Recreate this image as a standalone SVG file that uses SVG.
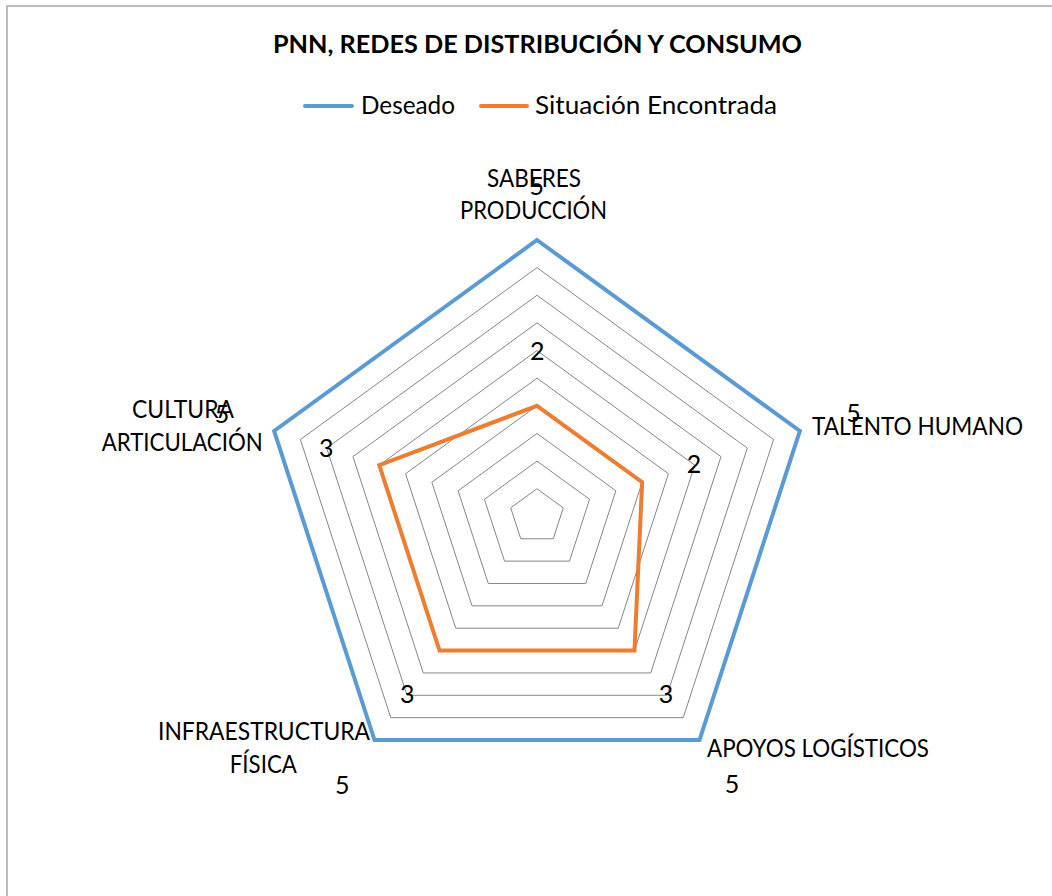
<svg xmlns="http://www.w3.org/2000/svg" width="1052" height="896" viewBox="0 0 1052 896">
  <style>
    text { font-family: Lato, "Open Sans", "Liberation Sans", sans-serif; font-size: 25px; fill: #000; }
    .title { font-weight: bold; }
    .grid { fill: none; stroke: #868686; stroke-width: 1; }
    .blue { fill: none; stroke: #5B9BD5; stroke-width: 4; stroke-linejoin: miter; }
    .orange { fill: none; stroke: #ED7D31; stroke-width: 4; stroke-linejoin: miter; }
    .mid { text-anchor: middle; }
  </style>
  <rect x="0" y="0" width="1052" height="896" fill="#fff"/>
  <path d="M7 896 V6 H1052" fill="none" stroke="#A6A6A6" stroke-width="1.5"/>

  <g id="title">
    <text class="title" x="273" y="53" textLength="529" lengthAdjust="spacingAndGlyphs">PNN, REDES DE DISTRIBUCIÓN Y CONSUMO</text>
  </g>

  <g id="legend">
    <line x1="305" y1="106" x2="352" y2="106" stroke="#5B9BD5" stroke-width="4" stroke-linecap="round"/>
    <text x="361" y="113.5" textLength="94" lengthAdjust="spacingAndGlyphs">Deseado</text>
    <line x1="481" y1="106" x2="527" y2="106" stroke="#ED7D31" stroke-width="4" stroke-linecap="round"/>
    <text x="535" y="113.5" textLength="242" lengthAdjust="spacingAndGlyphs">Situación Encontrada</text>
  </g>

  <g id="grid">
    <polygon class="grid" points="537,488.76 563.29,507.86 553.25,538.76 520.75,538.76 510.71,507.86"/>
    <polygon class="grid" points="537,461.12 589.58,499.32 569.49,561.12 504.51,561.12 484.42,499.32"/>
    <polygon class="grid" points="537,433.48 615.87,490.78 585.74,583.48 488.26,583.48 458.13,490.78"/>
    <polygon class="grid" points="537,405.84 642.15,482.24 601.99,605.84 472.01,605.84 431.85,482.24"/>
    <polygon class="grid" points="537,378.2 668.44,473.7 618.23,628.2 455.77,628.2 405.56,473.7"/>
    <polygon class="grid" points="537,350.56 694.73,465.16 634.48,650.56 439.52,650.56 379.27,465.16"/>
    <polygon class="grid" points="537,322.92 721.02,456.61 650.73,672.93 423.27,672.93 352.98,456.61"/>
    <polygon class="grid" points="537,295.28 747.31,448.07 666.97,695.29 407.03,695.29 326.69,448.07"/>
    <polygon class="grid" points="537,267.64 773.6,439.53 683.22,717.65 390.78,717.65 300.4,439.53"/>
    <polygon class="grid" points="537,240 799.88,430.99 699.47,740.01 374.53,740.01 274.12,430.99"/>
  </g>

  <g id="series-deseado">
    <polygon class="blue" points="537,240 799.88,430.99 699.47,740.01 374.53,740.01 274.12,430.99"/>
  </g>
  <g id="series-situacion">
    <polygon class="orange" points="537,405.84 642.15,482.24 634.48,650.56 439.52,650.56 379.27,465.16"/>
  </g>

  <g id="axis-saberes">
    <text class="mid" x="534" y="187" textLength="94" lengthAdjust="spacingAndGlyphs">SABERES</text>
    <text class="mid" x="533.5" y="218.5" textLength="147" lengthAdjust="spacingAndGlyphs">PRODUCCIÓN</text>
  </g>
  <g id="axis-talento">
    <text x="812" y="435" textLength="211" lengthAdjust="spacingAndGlyphs">TALENTO HUMANO</text>
  </g>
  <g id="axis-apoyos">
    <text x="707" y="756.7" textLength="222" lengthAdjust="spacingAndGlyphs">APOYOS LOGÍSTICOS</text>
  </g>
  <g id="axis-infraestructura">
    <text class="mid" x="264" y="740" textLength="212" lengthAdjust="spacingAndGlyphs">INFRAESTRUCTURA</text>
    <text class="mid" x="263.3" y="772.7" textLength="67" lengthAdjust="spacingAndGlyphs">FÍSICA</text>
  </g>
  <g id="axis-cultura">
    <text class="mid" x="183" y="418" textLength="102" lengthAdjust="spacingAndGlyphs">CULTURA</text>
    <text class="mid" x="182.2" y="451" textLength="161" lengthAdjust="spacingAndGlyphs">ARTICULACIÓN</text>
  </g>

  <g id="data-labels">
    <text class="mid" x="536.7" y="195">5</text>
    <text class="mid" x="853.5" y="421.7">5</text>
    <text class="mid" x="732" y="793">5</text>
    <text class="mid" x="342.3" y="794">5</text>
    <text class="mid" x="222" y="423">5</text>
    <text class="mid" x="537.3" y="360">2</text>
    <text class="mid" x="694" y="473">2</text>
    <text class="mid" x="666" y="703">3</text>
    <text class="mid" x="407.3" y="703">3</text>
    <text class="mid" x="326.3" y="457">3</text>
  </g>
</svg>
